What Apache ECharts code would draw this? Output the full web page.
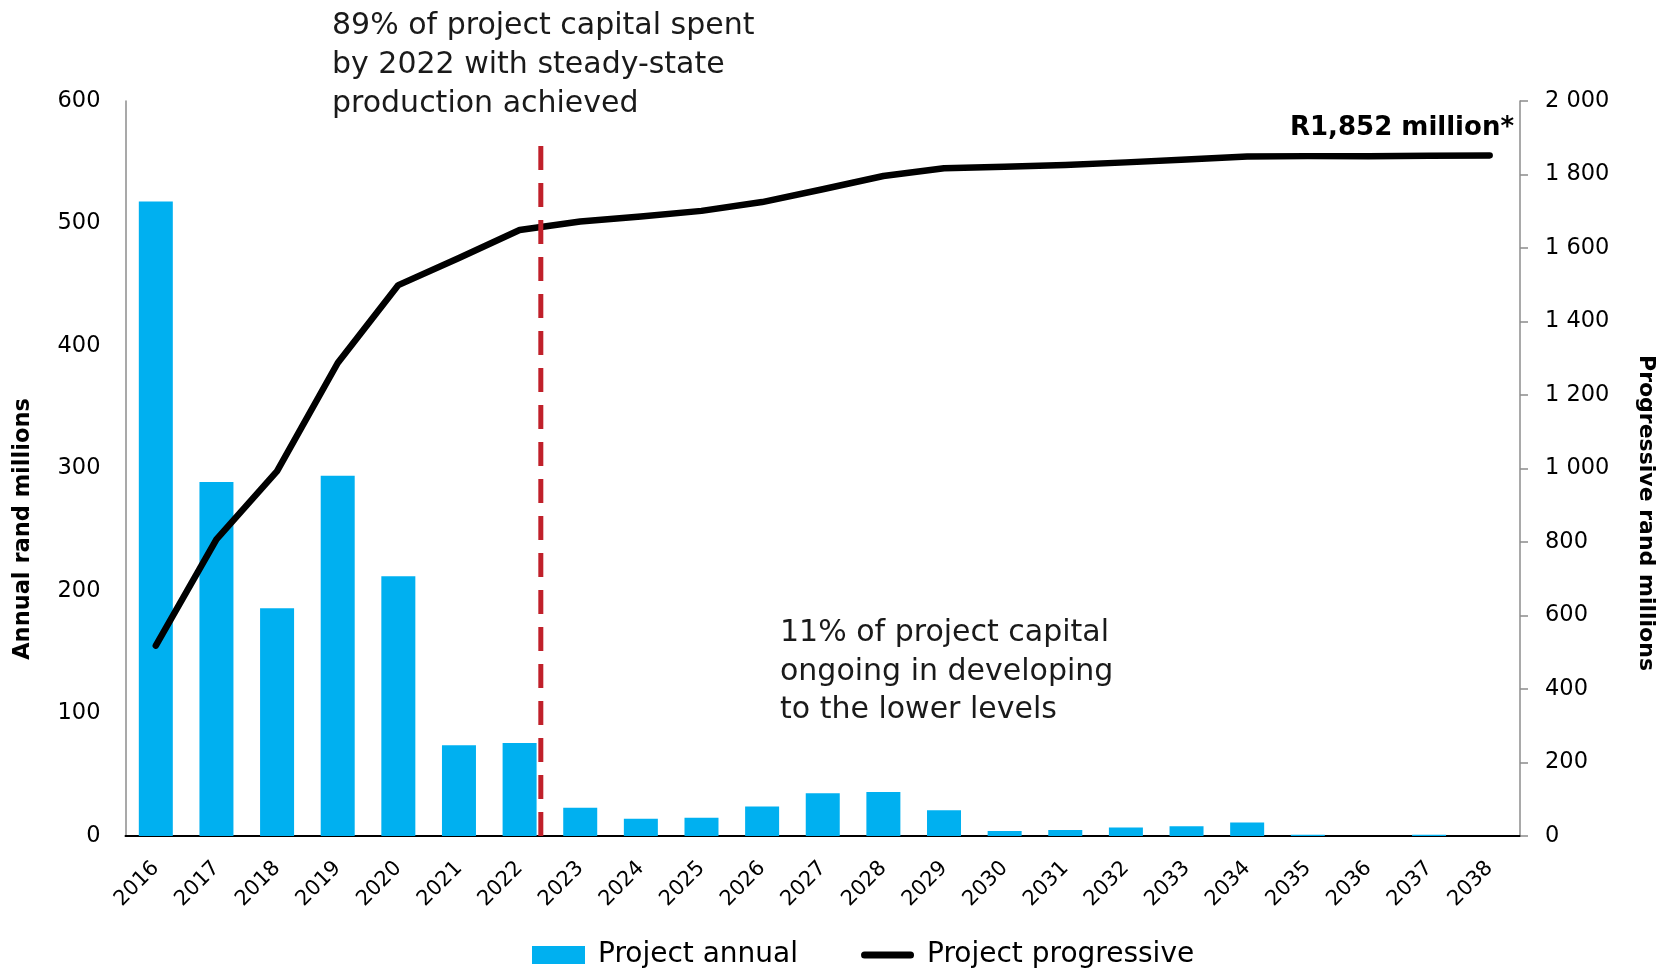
<!DOCTYPE html>
<html><head><meta charset="utf-8">
<script src="https://cdn.jsdelivr.net/npm/echarts@6/dist/echarts.min.js"></script>
<style>html,body{margin:0;padding:0;background:#fff}#c{width:1667px;height:972px}</style>
</head><body><div id="c"></div>
<script>
const years = ['2016','2017','2018','2019','2020','2021','2022','2023','2024','2025','2026','2027','2028','2029','2030','2031','2032','2033','2034','2035','2036','2037','2038'];
const annual = [518, 289, 186, 294, 212, 74, 76, 23, 14, 15, 24, 35, 36, 21, 4, 5, 7, 8, 11, 1, 0, 1, 0];
const progressive = [518, 807, 993, 1287, 1499, 1573, 1649, 1672, 1686, 1701, 1725, 1760, 1796, 1817, 1821, 1826, 1833, 1841, 1849, 1850, 1850, 1851, 1852];
const leftTicks = [0, 100, 200, 300, 400, 500, 600];
const rightTicks = [0, 200, 400, 600, 800, 1000, 1200, 1400, 1600, 1800, 2000];
const dividerPos = 6.85;   // position between 2022 and 2023 on category scale
const dividerTop = 570;    // on left axis scale
const FONT = 'DejaVu Sans';

const chart = echarts.init(document.getElementById('c'));
const fmt = v => v >= 1000 ? Math.floor(v/1000) + ' ' + String(v % 1000).padStart(3,'0') : String(v);
chart.setOption({
  animation: false,
  textStyle: {fontFamily: FONT},
  grid: {left: 125.5, right: 147, top: 101, bottom: 136, containLabel: false},
  xAxis: [{
    type: 'category', data: years, boundaryGap: true,
    axisLine: {lineStyle: {color: '#000', width: 2}},
    axisTick: {show: false},
    axisLabel: {rotate: 45, fontSize: 21, color: '#000', margin: 29, fontFamily: FONT, interval: 0}
  }, {
    type: 'value', min: 0, max: 23, show: false
  }],
  yAxis: [{
    type: 'value', min: leftTicks[0], max: leftTicks[leftTicks.length-1], interval: 100,
    axisLine: {show: true, lineStyle: {color: '#8c8c8c', width: 1.5}},
    axisTick: {show: false},
    splitLine: {show: false},
    axisLabel: {fontSize: 22.5, color: '#000', margin: 25, fontFamily: FONT}
  }, {
    type: 'value', min: rightTicks[0], max: rightTicks[rightTicks.length-1], interval: 200, position: 'right',
    axisLine: {show: true, lineStyle: {color: '#8c8c8c', width: 1.5}},
    axisTick: {show: true, length: 8, lineStyle: {color: '#8c8c8c', width: 1.5}},
    splitLine: {show: false},
    axisLabel: {fontSize: 22.5, color: '#000', margin: 25, fontFamily: FONT, formatter: fmt}
  }],
  legend: {
    left: 532, top: 940, padding: 0, itemWidth: 53, itemHeight: 18, itemGap: 63,
    textStyle: {fontSize: 28, lineHeight: 30, color: '#000', fontFamily: FONT, padding: [0,0,0,8]},
    data: [
      {name: 'Project annual', icon: 'rect'},
      {name: 'Project progressive', icon: 'path://M3.5,0 H49.5 A3.5,3.5 0 0 1 49.5,7 H3.5 A3.5,3.5 0 0 1 3.5,0 Z'}
    ]
  },
  series: [{
    name: 'Project annual', type: 'bar', data: annual, barWidth: 34,
    itemStyle: {color: '#00B0F0'}, xAxisIndex: 0, yAxisIndex: 0
  }, {
    name: 'Project progressive', type: 'line', data: progressive, yAxisIndex: 1, xAxisIndex: 0,
    showSymbol: false, symbol: 'none',
    lineStyle: {color: '#000', width: 6.5, cap: 'round', join: 'round'},
    itemStyle: {color: '#000'}, z: 5
  }, {
    name: 'divider', type: 'line', xAxisIndex: 1, yAxisIndex: 0,
    data: [[dividerPos, 0], [dividerPos, dividerTop]], symbol: 'none',
    lineStyle: {color: '#C0202A', width: 5, type: [24, 13]}, z: 6, silent: true
  }],
  graphic: [
    {type: 'text', x: 332, y: 7, style: {text: '89% of project capital spent\nby 2022 with steady-state\nproduction achieved', font: '30px "DejaVu Sans"', fill: '#1a1a1a', lineHeight: 39, verticalAlign: 'top'}},
    {type: 'text', x: 780, y: 614, style: {text: '11% of project capital\nongoing in developing\nto the lower levels', font: '30px "DejaVu Sans"', fill: '#1a1a1a', lineHeight: 38.5, verticalAlign: 'top'}},
    {type: 'text', x: 1514, y: 128, style: {text: 'R1,852 million*', font: 'bold 26px "DejaVu Sans"', fill: '#000', align: 'right', verticalAlign: 'middle'}},
    {type: 'text', x: 23, y: 529, rotation: Math.PI/2, style: {text: 'Annual rand millions', font: 'bold 22.5px "DejaVu Sans"', fill: '#000', align: 'center', verticalAlign: 'middle'}},
    {type: 'text', x: 1646, y: 513, rotation: -Math.PI/2, style: {text: 'Progressive rand millions', font: 'bold 22px "DejaVu Sans"', fill: '#000', align: 'center', verticalAlign: 'middle'}}
  ]
});
</script></body></html>
